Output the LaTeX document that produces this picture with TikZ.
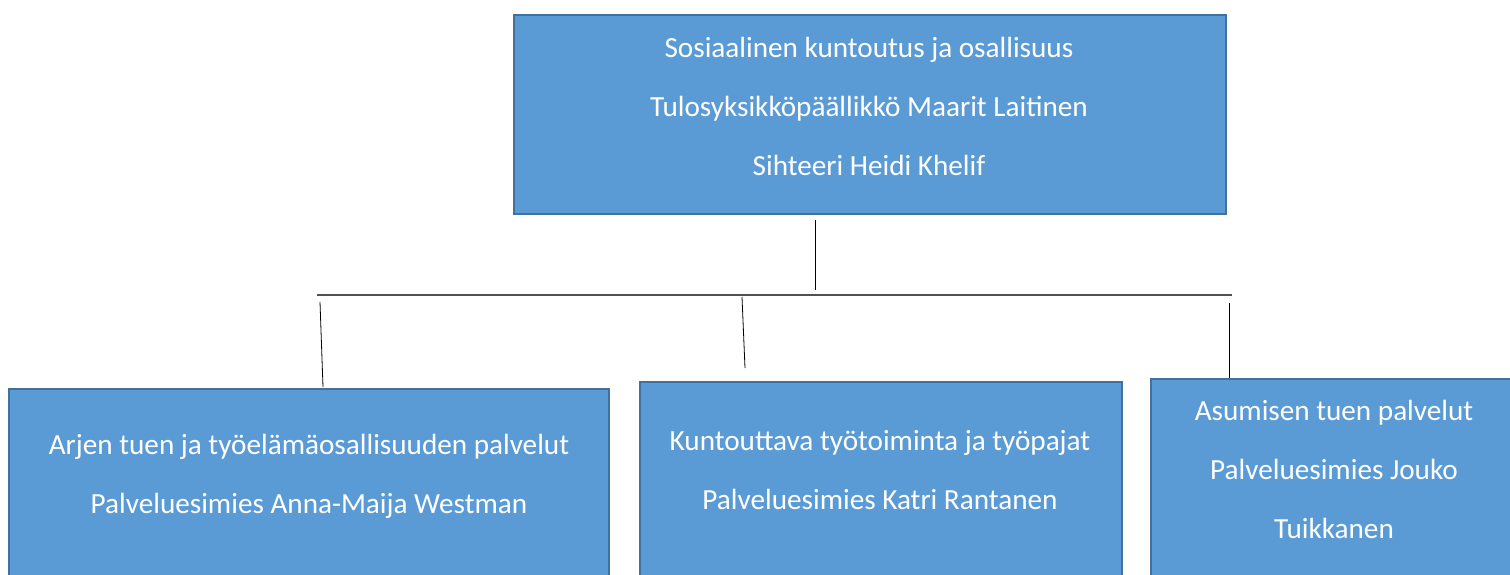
\documentclass[tikz,border=0pt]{standalone}
\usepackage{fontspec}
\setmainfont{Carlito}
\definecolor{boxfill}{HTML}{5B9BD5}
\definecolor{boxline}{HTML}{41719C}
\definecolor{busline}{HTML}{505050}
\begin{document}
\begin{tikzpicture}[x=1pt,y=-1pt,
  orgbox/.style={draw=boxline, fill=boxfill, line width=2.2pt, rectangle, anchor=north west, inner sep=0pt},
  orgtext/.style={text=white, align=center, font=\fontsize{29.2}{59}\selectfont, inner sep=0pt},
  conn/.style={draw=black, line width=0.8pt},
  bus/.style={draw=busline, line width=2pt}]
\useasboundingbox (0,0) rectangle (1510,574);
% boxes
\node[orgbox, minimum width=712, minimum height=199] (top) at (513,14) {};
\node[orgbox, minimum width=600, minimum height=220] (left) at (8,388) {};
\node[orgbox, minimum width=482, minimum height=220] (mid) at (639,381) {};
\node[orgbox, minimum width=370, minimum height=220] (right) at (1150,378) {};
% texts
\node[orgtext] (ttop) at (869,106) {Sosiaalinen kuntoutus ja osallisuus\\Tulosyksikköpäällikkö Maarit Laitinen\\Sihteeri Heidi Khelif};
\node[orgtext] (tleft) at (309,476) {Arjen tuen ja työelämäosallisuuden palvelut\\Palveluesimies Anna-Maija Westman};
\node[orgtext] (tmid) at (880,470) {Kuntouttava työtoiminta ja työpajat\\Palveluesimies Katri Rantanen};
\node[orgtext] (tright) at (1334,469) {Asumisen tuen palvelut\\Palveluesimies Jouko\\Tuikkanen};
% connectors
\coordinate (c0a) at (815,220);
\coordinate (c0b) at (815,290);
\coordinate (busl) at (317,295);
\coordinate (busr) at (1232,295);
\coordinate (c1a) at (320,302);
\coordinate (c1b) at (323,387);
\coordinate (c2a) at (742,297);
\coordinate (c2b) at (745,368);
\coordinate (c3a) at (1229,303);
\coordinate (c3b) at (1229,378);
\draw[conn] (c0a) -- (c0b);
\draw[bus] (busl) -- (busr);
\draw[conn] (c1a) -- (c1b);
\draw[conn] (c2a) -- (c2b);
\draw[conn] (c3a) -- (c3b);
\end{tikzpicture}
\end{document}
